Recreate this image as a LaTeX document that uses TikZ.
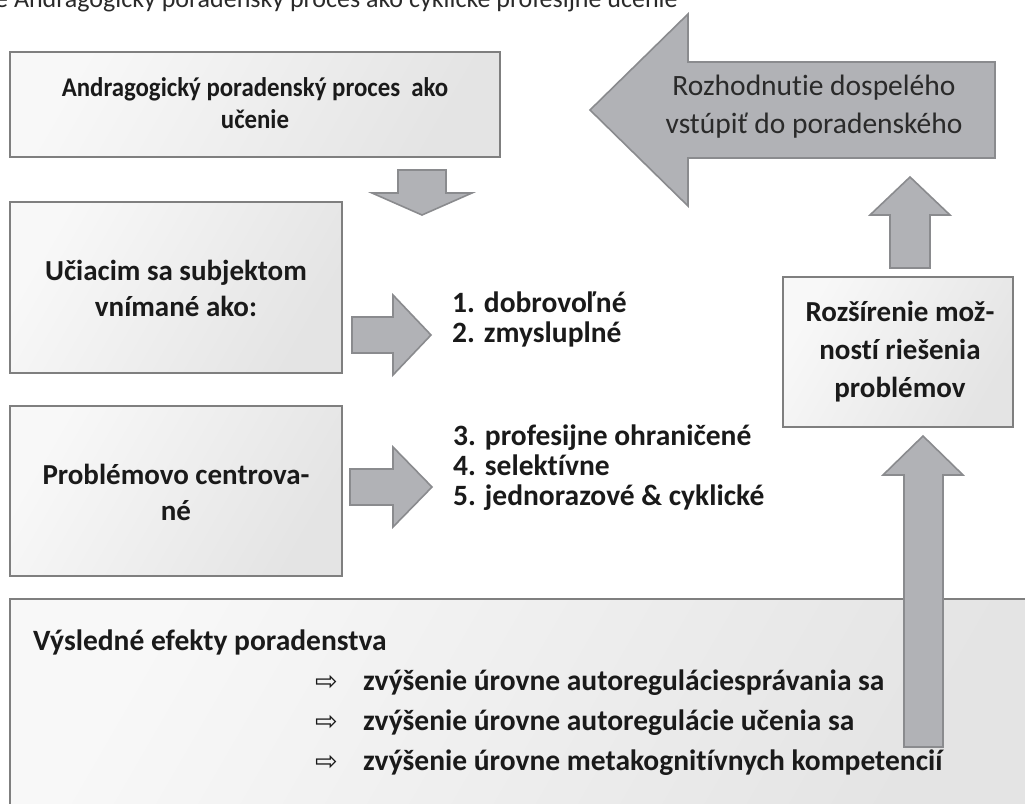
\documentclass[tikz,border=0pt]{standalone}
\usepackage{fontspec}
\setmainfont{Carlito}[Ligatures={NoCommon,NoContextual}]
\newfontfamily\narrowfont{Carlito}[Ligatures={NoCommon,NoContextual}, FakeStretch=0.92]
\newfontfamily\symfont{DejaVu Sans}
\definecolor{boxline}{HTML}{7F7F7F}
\definecolor{boxlight}{HTML}{F8F8F8}
\definecolor{boxdark}{HTML}{E4E4E4}
\definecolor{arrowfill}{HTML}{B1B2B6}
\definecolor{arrowline}{HTML}{8A8B8E}
\definecolor{ink}{HTML}{1A1A1A}
\definecolor{softink}{HTML}{2A2A2A}
\begin{document}
\begin{tikzpicture}[x=1pt,y=1pt,
  panel/.style={draw=boxline, line width=2pt, left color=boxlight, right color=boxdark, shading angle=60},
  blockarrow/.style={fill=arrowfill, draw=arrowline, line width=1.6pt, line join=miter},
  boxtext/.style={text=ink, font=\fontsize{29}{36}\selectfont\bfseries, align=center, inner sep=0pt},
  listtext/.style={text=ink, font=\fontsize{29.5}{30}\selectfont\bfseries, anchor=base west, inner sep=0pt},
  efftext/.style={text=ink, font=\fontsize{29.5}{30}\selectfont\bfseries, anchor=base west, inner sep=0pt},
  arrowtext/.style={text=softink, font=\fontsize{29.5}{38}\selectfont, align=center, inner sep=0pt}]
\useasboundingbox (0,0) rectangle (1025,-803);
\begin{scope}
\clip (0,0) rectangle (1025,-803);

% heading, its upper half cut off by the page edge
\node[anchor=base west, inner sep=0pt, text=softink, font=\fontsize{26}{30}\selectfont] (title)
  at (-5,-8) {e Andragogický poradenský proces ako cyklické profesijné učenie};

% panels
\path[panel] (10,-52) rectangle (500,-157);
\node[boxtext, font=\narrowfont\fontsize{27}{32}\selectfont\bfseries] (proc) at (255,-103) {Andragogický poradenský proces\ \ ako\\učenie};

\path[panel] (10,-202) rectangle (342,-373);
\node[boxtext] (subj) at (176,-288) {Učiacim sa subjektom\\vnímané ako:};

\path[panel] (10,-406) rectangle (342,-576);
\node[boxtext] (probl) at (176,-492) {Problémovo centrova-\\né};

\path[panel] (783,-277) rectangle (1013,-427);
\node[boxtext, font=\fontsize{29}{38}\selectfont\bfseries] (rozs) at (900,-352) {Rozšírenie mož-\\ností riešenia\\problémov};

\path[panel] (10,-599) rectangle (1045,-815);

% big arrow pointing left
\path[blockarrow] (995,-62) -- (688,-62) -- (688,-14) -- (590,-110) -- (688,-206) -- (688,-158) -- (995,-158) -- cycle;
\node[arrowtext] (decide) at (814,-107) {Rozhodnutie dospelého\\vstúpiť do poradenského};

% arrow down below the first panel
\path[blockarrow] (398,-170) -- (446,-170) -- (446,-193) -- (472,-193) -- (422,-215) -- (372,-193) -- (398,-193) -- cycle;

% arrows pointing right
\path[blockarrow] (352,-317) -- (393,-317) -- (393,-295) -- (431,-335) -- (393,-375) -- (393,-353) -- (352,-353) -- cycle;
\path[blockarrow] (350,-469) -- (393,-469) -- (393,-447) -- (432,-487) -- (393,-527) -- (393,-505) -- (350,-505) -- cycle;

% arrows pointing up
\path[blockarrow] (890,-268) -- (890,-215) -- (870,-215) -- (910,-177) -- (950,-215) -- (930,-215) -- (930,-268) -- cycle;
\path[blockarrow] (904,-747) -- (904,-475) -- (883,-475) -- (923,-436) -- (963,-475) -- (943,-475) -- (943,-747) -- cycle;

% lists
\node[listtext] (l1) at (452,-312) {1. dobrovoľné};
\node[listtext] (l2) at (452,-342) {2. zmysluplné};
\node[listtext] (l3) at (453,-445) {3. profesijne ohraničené};
\node[listtext] (l4) at (453,-475) {4. selektívne};
\node[listtext] (l5) at (453,-505) {5. jednorazové \& cyklické};

\node[efftext] (eff) at (33,-650) {Výsledné efekty poradenstva};
\foreach \y/\t [count=\i] in {-690/zvýšenie úrovne autoreguláciesprávania sa,
                              -730/zvýšenie úrovne autoregulácie učenia sa,
                              -770/zvýšenie úrovne metakognitívnych kompetencií}{
  \node[anchor=base west, inner sep=0pt, text=ink, font=\symfont\fontsize{27}{30}\selectfont] (b\i) at (315,\y) {⇨};
  \node[efftext] (e\i) at (363,\y) {\t};
}
\end{scope}
\end{tikzpicture}
\end{document}
